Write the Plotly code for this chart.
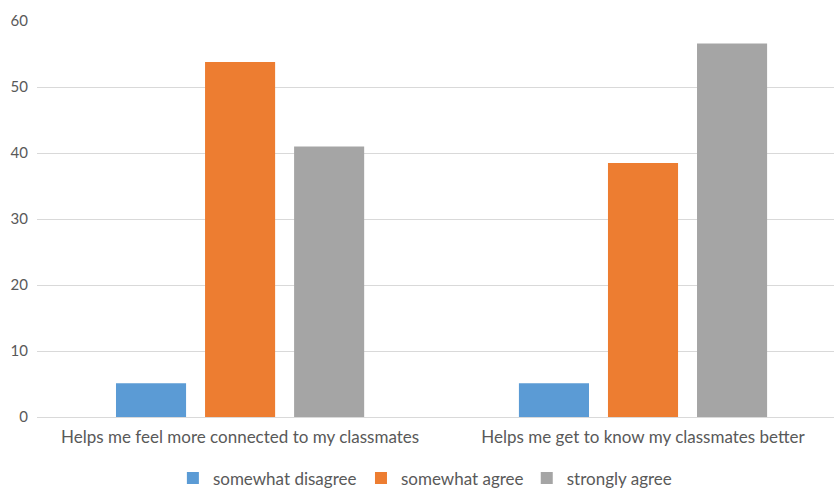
import plotly.graph_objects as go

categories = ["Helps me feel more connected to my classmates",
              "Helps me get to know my classmates better"]
series_names = ["somewhat disagree", "somewhat agree", "strongly agree"]
somewhat_disagree = [5.1, 5.1]
somewhat_agree = [53.8, 38.5]
strongly_agree = [41.0, 56.6]
y_ticks = [0, 10, 20, 30, 40, 50, 60]

colors = ["#5B9BD5", "#ED7D31", "#A5A5A5"]
FONT = "Lato, Noto Sans, sans-serif"

legend_ids = ["legend", "legend2", "legend3"]
legend_x = [0.1705, 0.4065, 0.6145]

fig = go.Figure()
for name, vals, c, lg in zip(series_names, [somewhat_disagree, somewhat_agree, strongly_agree],
                             colors, legend_ids):
    fig.add_trace(go.Bar(x=categories, y=vals, name=name, marker_color=c,
                         marker_line_width=0, legend=lg))

leg_common = dict(orientation="h", y=-0.155, yanchor="middle", xanchor="left",
                  font=dict(size=17, color="#595959"), itemwidth=30,
                  bgcolor="rgba(0,0,0,0)", borderwidth=0)

fig.update_layout(
    width=834, height=489,
    margin=dict(l=37, r=0, t=21, b=72, autoexpand=False),
    paper_bgcolor="white", plot_bgcolor="white",
    barmode="group", bargap=0.337, bargroupgap=0.213,
    font=dict(family=FONT, size=17, color="#595959"),
    showlegend=True,
    legend=dict(x=legend_x[0], **leg_common),
    legend2=dict(x=legend_x[1], **leg_common),
    legend3=dict(x=legend_x[2], **leg_common),
)
fig.update_xaxes(range=[-0.504, 1.474], showgrid=False, showline=False, ticks="",
                 tickfont=dict(size=17, color="#595959"), ticklabelstandoff=8,
                 automargin=False)
fig.update_yaxes(range=[0, 60], tickvals=y_ticks, showgrid=True, gridcolor="#D9D9D9",
                 gridwidth=1, zeroline=True, zerolinecolor="#D9D9D9", zerolinewidth=1,
                 showline=False, ticks="", tickfont=dict(size=15, color="#595959"),
                 ticklabelstandoff=8, automargin=False)

fig.write_html("out.html")
